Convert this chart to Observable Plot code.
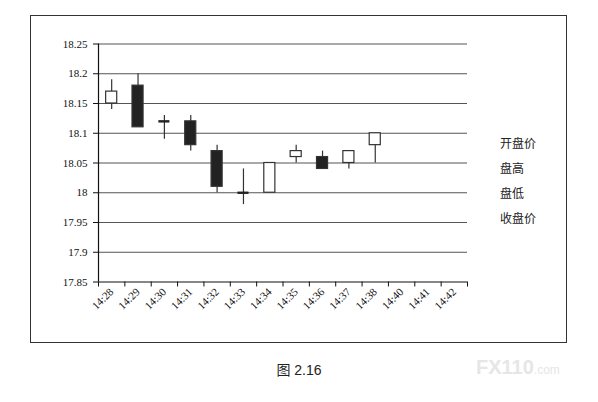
<!DOCTYPE html>
<html>
<head>
<meta charset="utf-8">
<script src="https://cdn.jsdelivr.net/npm/d3@7"></script>
<script src="https://cdn.jsdelivr.net/npm/@observablehq/plot@0.6"></script>
<style>
  html, body { margin: 0; padding: 0; background: #fff; }
  #wrap { position: relative; width: 598px; height: 402px; overflow: hidden; }
  #chart { position: absolute; left: 0; top: 0; }
  #chart svg, #chart svg text { font-family: "Liberation Serif", "DejaVu Serif", serif !important; }
  #frame { position: absolute; left: 30px; top: 15px; width: 535px; height: 326px; border: 1.3px solid #333; }
  .leg { position: absolute; left: 500px; font-family: "Noto Sans CJK SC", sans-serif; font-size: 12px; color: #222; line-height: 1; }
  #caption { position: absolute; left: 0; width: 598px; top: 359px; text-align: center; font-family: "Liberation Sans", "Noto Sans CJK SC", sans-serif; font-size: 14px; color: #222; }
  #wm { position: absolute; left: 476px; top: 356px; font-family: "Liberation Sans", sans-serif; font-weight: bold; font-size: 20px; color: #e6e6e6; }
  #wm span { font-size: 12px; font-weight: normal; }
</style>
</head>
<body>
<div id="wrap">
  <div id="chart"></div>
  <div id="frame"></div>
  <div id="legend"></div>
  <div id="caption"></div>
  <div id="wm">FX110<span>.com</span></div>
</div>
<script>
const times = ["14:28","14:29","14:30","14:31","14:32","14:33","14:34","14:35","14:36","14:37","14:38","14:40","14:41","14:42"];
const openV  = [18.15, 18.18, 18.12, 18.12, 18.07, 18.00, 18.00, 18.06, 18.06, 18.05, 18.08];
const highV  = [18.19, 18.20, 18.13, 18.13, 18.08, 18.04, 18.05, 18.08, 18.07, 18.07, 18.10];
const lowV   = [18.14, 18.11, 18.09, 18.07, 18.00, 17.98, 18.00, 18.05, 18.04, 18.04, 18.05];
const closeV = [18.17, 18.11, 18.12, 18.08, 18.01, 18.00, 18.05, 18.07, 18.04, 18.07, 18.10];
const yTicks = [17.85, 17.9, 17.95, 18, 18.05, 18.1, 18.15, 18.2, 18.25];
const legendLabels = ["开盘价", "盘高", "盘低", "收盘价"];
const captionText = "图 2.16";

const candles = openV.map((o, i) => ({
  i, t: times[i], open: o, high: highV[i], low: lowV[i], close: closeV[i]
}));
const bodies = candles.filter(d => d.open !== d.close);
const doji = candles.filter(d => d.open === d.close);
const half = 0.21;

const chart = Plot.plot({
  width: 598,
  height: 402,
  marginLeft: 98,
  marginRight: 131,
  marginTop: 43.5,
  marginBottom: 120.5,
  style: { fontFamily: "'Liberation Serif', 'DejaVu Serif', serif", fontSize: "11px", color: "#111", background: "transparent" },
  x: { type: "linear", domain: [0, times.length], axis: null },
  y: { domain: [17.85, 18.25], axis: null },
  marks: [
    Plot.ruleY(yTicks.filter(v => v !== 17.85), { stroke: "#555", strokeWidth: 1.2 }),
    Plot.axisY({ ticks: yTicks, tickSize: 5, tickPadding: 6, tickFormat: d => String(+d.toFixed(2)), stroke: "#111", strokeOpacity: 1 }),
    Plot.axisX({ ticks: d3.range(times.length + 1), tickSize: 5, tickFormat: () => "", stroke: "#111", strokeOpacity: 1 }),
    Plot.axisX({ ticks: times.map((t, i) => i + 0.5), tickSize: 0, tickPadding: 8, tickRotate: -45, tickFormat: d => times[Math.round(d - 0.5)] }),
    Plot.ruleY([17.85], { stroke: "#111", strokeWidth: 1.2 }),
    Plot.ruleX([0], { y1: 17.85, y2: 18.25, stroke: "#111", strokeWidth: 1.2 }),
    Plot.ruleX(candles, { x: d => d.i + 0.5, y1: "low", y2: "high", stroke: "#333", strokeWidth: 1.2 }),
    Plot.rect(bodies, {
      x1: d => d.i + 0.5 - half, x2: d => d.i + 0.5 + half,
      y1: "open", y2: "close",
      fill: d => d.close > d.open ? "#fff" : "#222",
      stroke: "#333", strokeWidth: 1.2
    }),
    Plot.ruleY(doji, { x1: d => d.i + 0.5 - half, x2: d => d.i + 0.5 + half, y: "open", stroke: "#222", strokeWidth: 2.4 })
  ]
});
document.getElementById("chart").appendChild(chart);

const legendTops = [137, 162, 187, 212];
const legend = document.getElementById("legend");
legendLabels.forEach((t, k) => {
  const el = document.createElement("div");
  el.className = "leg";
  el.style.top = legendTops[k] + "px";
  el.textContent = t;
  legend.appendChild(el);
});
document.getElementById("caption").textContent = captionText;
</script>
</body>
</html>
